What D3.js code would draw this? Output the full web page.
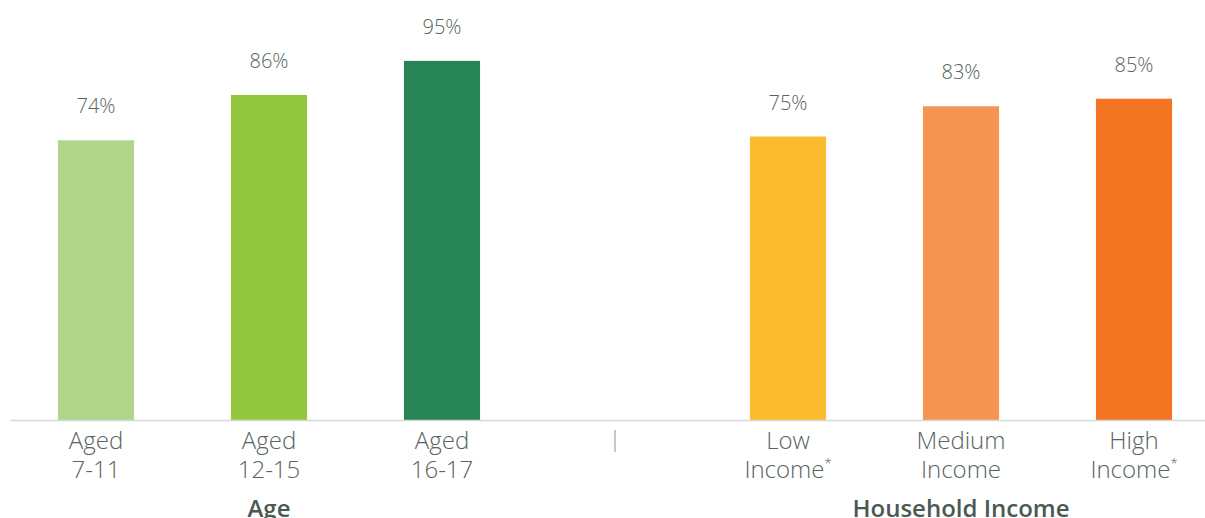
<!DOCTYPE html>
<html>
<head>
<meta charset="utf-8">
<script src="https://cdn.jsdelivr.net/npm/d3@7"></script>
<style>
  html, body { margin: 0; padding: 0; background: #fff; }
  svg { display: block; font-family: "Open Sans", Lato, sans-serif; }
</style>
</head>
<body>
<svg id="chart" width="1205" height="518"></svg>
<script>
// Categories (the "sep" slot is the gap between the two groups)
const categories = ["age711", "age1215", "age1617", "sep", "low", "medium", "high"];
const labelLines = [["Aged", "7-11"], ["Aged", "12-15"], ["Aged", "16-17"], [], ["Low", "Income"], ["Medium", "Income"], ["High", "Income"]];
const footnoteMarks = [false, false, false, false, true, false, true];
const values = [74, 86, 95, null, 75, 83, 85];
const barColors = ["#b1d58b", "#93c83e", "#268457", null, "#fbbb2f", "#f69453", "#f37421"];
const groupNames = ["Age", "Household Income"];
const groupCenters = ["age1215", "medium"];

const svg = d3.select("#chart");
const baseY = 420;
const textColor = "#56655e";

const x = d3.scaleBand()
  .domain(categories)
  .range([9.5, 1220.5])
  .paddingInner(0.56)
  .paddingOuter(0.28);

const y = d3.scaleLinear()
  .domain([0, 100])
  .range([baseY, 42]);

const data = categories.map((c, i) => ({ c, v: values[i], color: barColors[i], lines: labelLines[i], star: footnoteMarks[i] }));
const bars = data.filter(d => d.v !== null);
const cx = c => x(c) + x.bandwidth() / 2;

// bars
svg.append("g").selectAll("rect")
  .data(bars)
  .join("rect")
  .attr("x", d => x(d.c))
  .attr("y", d => y(d.v))
  .attr("width", x.bandwidth())
  .attr("height", d => y(0) - y(d.v))
  .attr("fill", d => d.color);

// value labels
svg.append("g").selectAll("text")
  .data(bars)
  .join("text")
  .attr("x", d => cx(d.c))
  .attr("y", d => y(d.v) - 27)
  .attr("text-anchor", "middle")
  .attr("font-size", 20)
  .attr("font-weight", 300)
  .attr("fill", textColor)
  .text(d => d.v + "%");

// baseline
svg.append("line")
  .attr("x1", 10).attr("x2", 1205)
  .attr("y1", baseY + 0.5).attr("y2", baseY + 0.5)
  .attr("stroke", "#d3d9d7")
  .attr("stroke-width", 1.5);

// group separator tick
svg.append("line")
  .attr("x1", cx("sep")).attr("x2", cx("sep"))
  .attr("y1", 430).attr("y2", 452)
  .attr("stroke", "#9aa5a0")
  .attr("stroke-width", 1.2);

// category labels
const lbl = svg.append("g").selectAll("text")
  .data(data)
  .join("text")
  .attr("x", d => cx(d.c))
  .attr("y", 449)
  .attr("text-anchor", "middle")
  .attr("font-size", 24)
  .attr("font-weight", 300)
  .attr("fill", textColor);

lbl.each(function(d) {
  const t = d3.select(this);
  d.lines.forEach((line, i) => {
    t.append("tspan")
      .attr("x", cx(d.c))
      .attr("dy", i === 0 ? 0 : 29)
      .text(line);
    if (d.star && i === d.lines.length - 1) {
      t.append("tspan").attr("font-size", 13).attr("dy", -10).text("*");
    }
  });
});

// group titles
svg.append("g").selectAll("text")
  .data(groupNames)
  .join("text")
  .attr("x", (d, i) => cx(groupCenters[i]))
  .attr("y", 517)
  .attr("text-anchor", "middle")
  .attr("font-size", 24)
  .attr("font-weight", 600)
  .attr("fill", "#4a5a53")
  .text(d => d);
</script>
</body>
</html>
